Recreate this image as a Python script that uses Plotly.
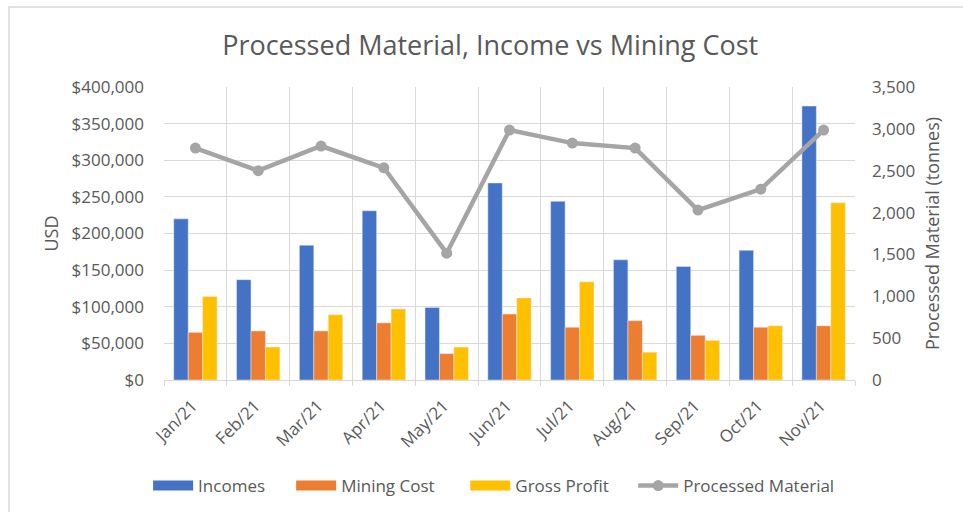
import plotly.graph_objects as go

months = ["Jan/21", "Feb/21", "Mar/21", "Apr/21", "May/21", "Jun/21",
          "Jul/21", "Aug/21", "Sep/21", "Oct/21", "Nov/21"]
incomes = [220000, 137000, 184000, 231000, 99000, 269000, 244000, 164000, 155000, 177000, 374000]
mining_cost = [65000, 67000, 67000, 78000, 36000, 90000, 72000, 81000, 61000, 72000, 74000]
gross_profit = [114000, 45000, 89000, 97000, 45000, 112000, 134000, 38000, 54000, 74000, 242000]
processed = [2770, 2500, 2795, 2535, 1515, 2985, 2830, 2770, 2030, 2280, 2985]

usd_ticks = [0, 50000, 100000, 150000, 200000, 250000, 300000, 350000, 400000]
usd_labels = ["$0", "$50,000", "$100,000", "$150,000", "$200,000", "$250,000",
              "$300,000", "$350,000", "$400,000"]
tonne_ticks = [0, 500, 1000, 1500, 2000, 2500, 3000, 3500]
tonne_labels = ["0", "500", "1,000", "1,500", "2,000", "2,500", "3,000", "3,500"]

FONT = "Open Sans"
GREY_TXT = "#595959"
BAR_COLORS = {"Incomes": "#4472C4", "Mining Cost": "#ED7D31", "Gross Profit": "#FFC000"}
bar_series = {"Incomes": incomes, "Mining Cost": mining_cost, "Gross Profit": gross_profit}
legend_ids = {"Incomes": "legend", "Mining Cost": "legend2",
              "Gross Profit": "legend3", "Processed Material": "legend4"}
legend_x = {"legend": -0.023, "legend2": 0.184, "legend3": 0.436, "legend4": 0.679}

fig = go.Figure()
for name, vals in bar_series.items():
    fig.add_trace(go.Bar(x=months, y=vals, name=name, marker_color=BAR_COLORS[name],
                         legendgroup=name, showlegend=False))
    # legend-only entry with a wide rectangular swatch, like the Excel legend
    fig.add_trace(go.Scatter(x=[None], y=[None], mode="lines", name=name,
                             legendgroup=name, legend=legend_ids[name],
                             line=dict(color=BAR_COLORS[name], width=11)))
fig.add_trace(go.Scatter(x=months, y=processed, name="Processed Material", yaxis="y2",
                         mode="lines+markers", legend=legend_ids["Processed Material"],
                         line=dict(color="#A5A5A5", width=4.5),
                         marker=dict(color="#A5A5A5", size=11)))

legend_common = dict(orientation="h", xanchor="left", y=-0.362, yanchor="middle",
                     font=dict(size=17, color=GREY_TXT), itemwidth=40,
                     bgcolor="rgba(0,0,0,0)")

fig.update_layout(
    width=963, height=512,
    margin=dict(l=164, r=108, t=87, b=132, autoexpand=False),
    paper_bgcolor="white", plot_bgcolor="white",
    font=dict(family=FONT, color=GREY_TXT, size=15),
    title=dict(text="Processed Material, Income vs Mining Cost",
               x=0.509, xanchor="center", y=0.912, yanchor="middle",
               font=dict(size=27, color=GREY_TXT, family=FONT)),
    barmode="group", bargap=0.31, bargroupgap=0,
    showlegend=True,
    legend=dict(x=legend_x["legend"], **legend_common),
    legend2=dict(x=legend_x["legend2"], **legend_common),
    legend3=dict(x=legend_x["legend3"], **legend_common),
    legend4=dict(x=legend_x["legend4"], **legend_common),
    xaxis=dict(type="category", range=[-0.5, len(months) - 0.5],
               tickson="boundaries", showgrid=True, gridcolor="#D9D9D9",
               gridwidth=1.3, ticks="outside", ticklen=5, tickcolor="#D9D9D9",
               showline=True, linecolor="#D9D9D9", linewidth=1.3, automargin=False,
               tickangle=-45, tickfont=dict(size=17, color=GREY_TXT),
               ticklabelstandoff=8, ticklabelshift=-3),
    yaxis=dict(range=[0, 400000], tickvals=usd_ticks, ticktext=usd_labels,
               showgrid=True, gridcolor="#D9D9D9", gridwidth=1.3, zeroline=False,
               automargin=False,
               tickfont=dict(size=17, color=GREY_TXT), ticks="", ticklabelstandoff=19,
               title=dict(text="USD", font=dict(size=18, color=GREY_TXT), standoff=8)),
    yaxis2=dict(range=[0, 3500], tickvals=tonne_ticks, ticktext=tonne_labels,
                overlaying="y", side="right", showgrid=False, zeroline=False,
                automargin=False,
                tickfont=dict(size=17, color=GREY_TXT), ticklabelstandoff=16,
                title=dict(text="Processed Material (tonnes)",
                           font=dict(size=18, color=GREY_TXT), standoff=12)),
    shapes=[dict(type="rect", xref="paper", yref="paper",
                 x0=-0.2243, x1=1.17, y0=-0.48, y1=1.273,
                 line=dict(color="#D9D9D9", width=1.5), layer="below")],
)

fig.write_html("out.html", config={"displayModeBar": False},
               post_script="document.body.style.margin='0px';")
